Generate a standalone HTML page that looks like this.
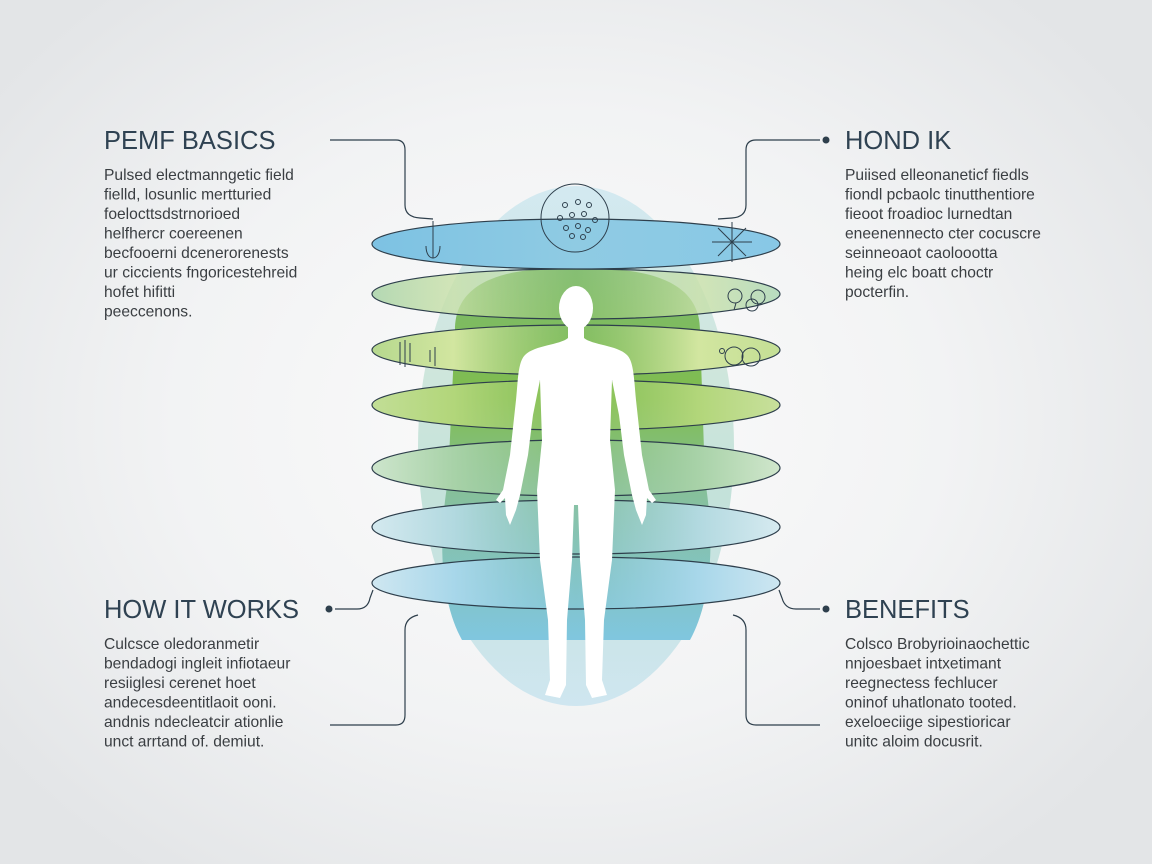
<!DOCTYPE html>
<html><head><meta charset="utf-8"><style>
html,body{margin:0;padding:0;width:1152px;height:864px;overflow:hidden;}
body{background:radial-gradient(ellipse 700px 560px at 560px 420px,#fbfbfb 0%,#f2f3f4 55%,#e3e5e7 100%);font-family:"Liberation Sans",sans-serif;}
svg{position:absolute;left:0;top:0}
.t{font-size:25.5px;fill:#2f4252;}
.b{font-size:15.6px;fill:#3a3e42;}
</style></head><body>
<svg width="1152" height="864" viewBox="0 0 1152 864">
<defs>
<linearGradient id="big" x1="0" y1="0" x2="0" y2="1">
<stop offset="0" stop-color="#d3e9f1"/><stop offset="0.35" stop-color="#cfe6dc"/><stop offset="0.6" stop-color="#c4e2da"/><stop offset="1" stop-color="#cfe6f0"/></linearGradient>
<linearGradient id="dome" x1="0" y1="0" x2="0" y2="1">
<stop offset="0" stop-color="#7dba6e"/><stop offset="0.35" stop-color="#7fbd4e"/><stop offset="0.6" stop-color="#86c09a"/><stop offset="1" stop-color="#80c6df"/></linearGradient>
<linearGradient id="b1" x1="0" x2="1"><stop offset="0" stop-color="#7dc2e3"/><stop offset="0.5" stop-color="#8fcbe3"/><stop offset="1" stop-color="#88c8e6"/></linearGradient>
<linearGradient id="b2" x1="0" x2="1"><stop offset="0" stop-color="#b4d8b4"/><stop offset="0.2" stop-color="#c8e0a8" stop-opacity=".8"/><stop offset="0.5" stop-color="#a8d08a" stop-opacity=".2"/><stop offset="0.8" stop-color="#c8e0a8" stop-opacity=".8"/><stop offset="1" stop-color="#b8dcc0"/></linearGradient>
<linearGradient id="b3" x1="0" x2="1"><stop offset="0" stop-color="#b6d88e"/><stop offset="0.2" stop-color="#d2e6a0"/><stop offset="0.5" stop-color="#a8d080" stop-opacity=".1"/><stop offset="0.8" stop-color="#d2e6a0"/><stop offset="1" stop-color="#c4df95"/></linearGradient>
<linearGradient id="b4" x1="0" x2="1"><stop offset="0" stop-color="#c2de96"/><stop offset="0.2" stop-color="#b2d67a"/><stop offset="0.5" stop-color="#a0cc70" stop-opacity=".1"/><stop offset="0.8" stop-color="#b2d67a"/><stop offset="1" stop-color="#c8e09c"/></linearGradient>
<linearGradient id="b5" x1="0" x2="1"><stop offset="0" stop-color="#cde5cc"/><stop offset="0.2" stop-color="#a8d2a8"/><stop offset="0.5" stop-color="#98c898" stop-opacity=".1"/><stop offset="0.8" stop-color="#a8d2a8"/><stop offset="1" stop-color="#d0e6cc"/></linearGradient>
<linearGradient id="b6" x1="0" x2="1"><stop offset="0" stop-color="#d4e9ef"/><stop offset="0.2" stop-color="#b2d9e0"/><stop offset="0.5" stop-color="#9ccfd8" stop-opacity=".1"/><stop offset="0.8" stop-color="#b2d9e0"/><stop offset="1" stop-color="#d6eaf0"/></linearGradient>
<linearGradient id="b7" x1="0" x2="1"><stop offset="0" stop-color="#cfe7f1"/><stop offset="0.2" stop-color="#a8d7ea"/><stop offset="0.5" stop-color="#94cfe6" stop-opacity=".1"/><stop offset="0.8" stop-color="#a8d7ea"/><stop offset="1" stop-color="#cde6f1"/></linearGradient>
</defs>
<ellipse cx="576" cy="446" rx="158" ry="260" fill="url(#big)"/>
<path d="M455 330 C455 270 530 268 576 268 C622 268 700 270 700 330 L705 480 C715 540 712 600 690 640 L462 640 C440 600 438 540 448 480 Z" fill="url(#dome)"/>
<g stroke="#2e3f4c" stroke-width="1.2">
<ellipse cx="576" cy="583" rx="204" ry="26" fill="url(#b7)"/>
<ellipse cx="576" cy="527" rx="204" ry="27" fill="url(#b6)"/>
<ellipse cx="576" cy="468" rx="204" ry="28" fill="url(#b5)"/>
<ellipse cx="576" cy="405" rx="204" ry="25" fill="url(#b4)"/>
<ellipse cx="576" cy="350" rx="204" ry="25" fill="url(#b3)"/>
<ellipse cx="576" cy="294" rx="204" ry="25" fill="url(#b2)"/>
<ellipse cx="576" cy="244" rx="204" ry="25" fill="url(#b1)"/>
</g>
<g fill="#ffffff">
<ellipse cx="576" cy="308" rx="17" ry="22"/>
<path d="M568 325 L568 338 C560 345 535 345 525 355 C518 362 518 380 516 400 L510 455 L503 490 L496 500 L500 503 L505 498 L506 515 L510 525 L516 510 L520 495 L528 455 L533 415 L540 380 L542 440 L537 490 L540 560 L548 620 L550 680 L545 695 L560 698 L566 685 L567 620 L572 560 L574 505 L578 505 L580 560 L585 620 L586 685 L592 698 L607 695 L602 680 L604 620 L612 560 L615 490 L610 440 L612 380 L619 415 L624 455 L632 495 L636 510 L642 525 L646 515 L647 498 L652 503 L656 500 L649 490 L642 455 L636 400 C634 380 634 362 627 355 C617 345 592 345 584 338 L584 325 Z"/>
</g>
<g fill="none" stroke="#2e3f4c" stroke-width="1">
<circle cx="575" cy="218" r="34"/>
<circle cx="565" cy="205" r="2.5"/><circle cx="578" cy="202" r="2.5"/><circle cx="589" cy="205" r="2.5"/><circle cx="560" cy="218" r="2.5"/><circle cx="572" cy="215" r="2.5"/><circle cx="584" cy="214" r="2.5"/><circle cx="595" cy="220" r="2.5"/><circle cx="566" cy="228" r="2.5"/><circle cx="578" cy="226" r="2.5"/><circle cx="588" cy="230" r="2.5"/><circle cx="572" cy="236" r="2.5"/><circle cx="583" cy="237" r="2.5"/>
<path d="M433 221 L433 258 M426 246 C426 262 440 262 440 246"/>
<path d="M712 242 L752 242 M732 222 L732 262 M718 228 L746 256 M746 228 L718 256"/>
<circle cx="735" cy="296" r="7"/><circle cx="758" cy="297" r="7"/><circle cx="752" cy="305" r="6"/><path d="M736 303 L734 310"/>
<circle cx="734" cy="356" r="9"/><circle cx="751" cy="357" r="9"/><circle cx="722" cy="351" r="2.5"/>
<path d="M400 342 L400 365 M405 340 L405 367 M410 343 L410 362 M430 350 L430 362 M435 347 L435 366"/>
</g>
<g fill="none" stroke="#2e3f4c" stroke-width="1.2">
<path d="M330 140 L396 140 Q405 140 405 150 L405 205 Q405 217 420 218 L433 219"/>
<path d="M820 140 L756 140 Q746 140 746 150 L746 205 Q746 217 732 218 L718 219"/>
<path d="M335 609 L357 609 Q368 609 370 598 L373 590"/>
<path d="M820 609 L796 609 Q785 609 782 598 L779 590"/>
<path d="M330 725 L396 725 Q405 725 405 715 L405 630 Q405 618 418 615"/>
<path d="M820 725 L756 725 Q746 725 746 715 L746 630 Q746 618 733 615"/>
</g>
<g fill="#2e3f4c"><circle cx="826" cy="140" r="3.5"/><circle cx="329" cy="609" r="3.5"/><circle cx="826" cy="609" r="3.5"/></g>
<text class="t" x="104" y="149">PEMF BASICS</text>
<g class="b">
<text x="104" y="180">Pulsed electmanngetic field</text>
<text x="104" y="199.5">fielld, losunlic mertturied</text>
<text x="104" y="219">foelocttsdstrnorioed</text>
<text x="104" y="238.5">helfhercr coereenen</text>
<text x="104" y="258">becfooerni dcenerorenests</text>
<text x="104" y="277.5">ur ciccients fngoricestehreid</text>
<text x="104" y="297">hofet hifitti</text>
<text x="104" y="316.5">peeccenons.</text>
</g>
<text class="t" x="845" y="149">HOND IK</text>
<g class="b">
<text x="845" y="180">Puiised elleonaneticf fiedls</text>
<text x="845" y="199.5">fiondl pcbaolc tinutthentiore</text>
<text x="845" y="219">fieoot froadioc lurnedtan</text>
<text x="845" y="238.5">eneenennecto cter cocuscre</text>
<text x="845" y="258">seinneoaot caoloootta</text>
<text x="845" y="277.5">heing elc boatt choctr</text>
<text x="845" y="297">pocterfin.</text>
</g>
<text class="t" x="104" y="618">HOW IT WORKS</text>
<g class="b">
<text x="104" y="649">Culcsce oledoranmetir</text>
<text x="104" y="668.5">bendadogi ingleit infiotaeur</text>
<text x="104" y="688">resiiglesi cerenet hoet</text>
<text x="104" y="707.5">andecesdeentitlaoit ooni.</text>
<text x="104" y="727">andnis ndecleatcir ationlie</text>
<text x="104" y="746.5">unct arrtand of. demiut.</text>
</g>
<text class="t" x="845" y="618">BENEFITS</text>
<g class="b">
<text x="845" y="649">Colsco Brobyrioinaochettic</text>
<text x="845" y="668.5">nnjoesbaet intxetimant</text>
<text x="845" y="688">reegnectess fechlucer</text>
<text x="845" y="707.5">oninof uhatlonato tooted.</text>
<text x="845" y="727">exeloeciige sipestioricar</text>
<text x="845" y="746.5">unitc aloim docusrit.</text>
</g>
</svg>
</body></html>
